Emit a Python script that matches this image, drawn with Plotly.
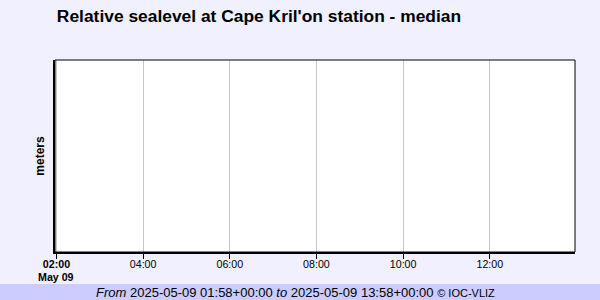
import plotly.graph_objects as go

# Data (the chart has no plotted values for this period)
times = []
levels = []
range_start = "2025-05-09 01:58"
range_end = "2025-05-09 13:58"
tick_values = ["2025-05-09 02:00", "2025-05-09 04:00", "2025-05-09 06:00",
               "2025-05-09 08:00", "2025-05-09 10:00", "2025-05-09 12:00"]
tick_labels = ["<b>02:00</b>", "04:00", "06:00", "08:00", "10:00", "12:00"]
date_label = "May 09"
title_text = "Relative sealevel at Cape Kril'on station - median"
y_title = "meters"
footer_text = ("<i>From</i> 2025-05-09 01:58+00:00 <i>to</i> 2025-05-09 13:58+00:00 "
               "<span style='font-size:11px'>© IOC-VLIZ</span>")

FONT = "Liberation Sans, Arial, sans-serif"
L, R, T, B = 55, 25, 60, 48
W, H = 600, 300
pw, ph = W - L - R, H - T - B


def py(pix):
    """pixel row -> paper y"""
    return (T + ph - pix) / ph


fig = go.Figure()
fig.add_trace(go.Scatter(x=times, y=levels, mode="lines", line=dict(color="blue", width=1),
                         showlegend=False))

fig.update_layout(
    width=W, height=H,
    margin=dict(l=L, r=R, t=T, b=B, pad=0),
    paper_bgcolor="#F0F0FF",
    plot_bgcolor="#FFFFFF",
    font=dict(family=FONT, color="#000000"),
    title=dict(text="<b>" + title_text + "</b>", x=259 / W, xref="container",
               xanchor="center", y=1 - 16 / H, yanchor="middle",
               font=dict(size=17.4, family=FONT, color="#000000")),
    xaxis=dict(type="date", range=[range_start, range_end],
               tickmode="array", tickvals=tick_values, ticktext=tick_labels,
               showgrid=True, gridcolor="#C8C8C8", gridwidth=1,
               ticks="outside", ticklen=5, tickwidth=1, tickcolor="#000000",
               ticklabelstandoff=-4,
               showline=True, linecolor="#000000", linewidth=2,
               tickfont=dict(size=10.67, family=FONT, color="#000000"),
               zeroline=False, fixedrange=True),
    yaxis=dict(range=[0, 1], showticklabels=False, ticks="", showgrid=False,
               zeroline=False, showline=True, linecolor="#000000", linewidth=2,
               title=dict(text="<b>" + y_title + "</b>", font=dict(size=12, family=FONT),
                          standoff=6),
               fixedrange=True),
    shapes=[
        dict(type="rect", xref="paper", yref="paper", x0=0, x1=1, y0=0, y1=1,
             line=dict(color="#000000", width=1), fillcolor="rgba(0,0,0,0)", layer="above"),
        dict(type="rect", xref="paper", yref="paper",
             x0=-L / pw, x1=(W - L) / pw, y0=py(300), y1=py(284),
             line=dict(width=0), fillcolor="#CCCCFF", layer="below"),
    ],
    annotations=[
        dict(text="<b>" + date_label + "</b>", xref="x", yref="paper",
             x=tick_values[0], y=py(276.5), xanchor="center", yanchor="middle",
             showarrow=False, font=dict(size=10.67, family=FONT, color="#000000")),
        dict(text=footer_text, xref="paper", yref="paper",
             x=(295 - L) / pw, y=py(292), xanchor="center", yanchor="middle",
             showarrow=False, font=dict(size=13, family=FONT, color="#000000")),
    ],
)

fig.write_html("out.html")
